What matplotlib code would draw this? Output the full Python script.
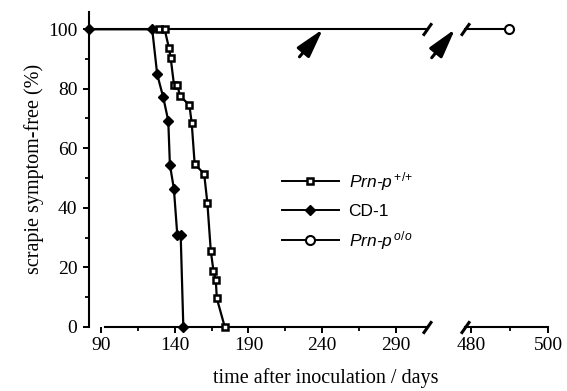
import numpy as np
from matplotlib import pyplot as plt

plt.rcParams['font.family'] = ['Liberation Serif', 'DejaVu Serif']
plt.rcParams['mathtext.fontset'] = 'custom'
plt.rcParams['mathtext.rm'] = 'Liberation Sans'
plt.rcParams['mathtext.it'] = 'Liberation Sans:italic'

# 数据 (天数, 存活百分比)
wt_days = [82, 129.3, 133.2, 136.1, 137.3, 139.6, 141.9, 143.6, 150, 151.6, 153.6, 160,
           162.2, 164.5, 166.3, 167.9, 168.6, 174]
wt_pct = [100, 100, 100, 93.8, 90.4, 81.2, 81.2, 77.6, 74.5, 68.4, 54.6, 51.5,
          41.6, 25.6, 18.9, 15.7, 9.6, 0]

cd1_days = [82, 124.8, 128.2, 132.3, 135.7, 136.8, 139.5, 141.8, 144.1, 145.9]
cd1_pct = [100, 100, 84.8, 77.1, 69.2, 54.5, 46.4, 31, 31, 0]

ko_days = [82, 310.8, np.nan, 478.3, 489.8]
ko_pct = [100, 100, np.nan, 100, 100]

x_major = [90, 140, 190, 240, 290, 480, 500]
x_minor = [115, 165, 215, 265, 490]
break_days = [310.8, 478.3]

# 箭头: (尾部天数, 尾部%, 头部天数, 头部%)
arrows = [(224.6, 90.7, 240.5, 100), (314.2, 90.4, 330, 100)]


def to_u(day):
    """断轴: 290 之前线性, 480 以后放大 2.6 倍"""
    day = np.asarray(day, dtype=float)
    return np.where(day <= 400, day - 90, 251 + (day - 480) * 2.6)


fig = plt.figure(figsize=(5.67, 3.91), dpi=100)
ax = fig.add_axes([0.157, 0.1637, 0.8095, 0.806])

ax.plot(to_u(ko_days), ko_pct, '-', color='k', lw=1.5, marker='o', ms=6.5,
        mfc='white', mec='k', mew=1.5, markevery=[4], clip_on=False,
        label=r'$Prn$-$p^{\,o/o}$', zorder=3)
ax.plot(to_u(cd1_days), cd1_pct, '-', color='k', lw=1.6, marker='D', ms=4.6,
        mfc='k', mec='k', clip_on=False, label='CD-1', zorder=5)
ax.plot(to_u(wt_days), wt_pct, '-', color='k', lw=1.6, marker='s', ms=3.8,
        mfc='white', mec='k', mew=1.8, markevery=list(range(1, len(wt_days))),
        clip_on=False, label=r'$Prn$-$p^{\,{+}/{+}}$', zorder=4)

# 坐标轴断开
bu = to_u(break_days)
ax.spines['bottom'].set_visible(False)
ax.spines['top'].set_visible(False)
ax.spines['right'].set_visible(False)
ax.spines['left'].set_linewidth(1.5)
ax.plot([to_u(92.7), bu[0]], [0, 0], color='k', lw=1.5, clip_on=False, zorder=2)
ax.plot([bu[1], to_u(500)], [0, 0], color='k', lw=1.5, clip_on=False, zorder=2)
slash = [(-0.7, -1), (0.7, 1)]
for y in [0, 100]:
    ax.plot(bu, [y, y], ls='none', marker=slash, ms=9, mew=2.2, color='k',
            clip_on=False, zorder=6)

for tx, ty, hx, hy in arrows:
    ax.annotate('', xy=(to_u(hx), hy), xytext=(to_u(tx), ty),
                arrowprops=dict(arrowstyle='-|>,head_length=0.8,head_width=0.22',
                                lw=2.2, color='k', mutation_scale=22,
                                shrinkA=0, shrinkB=0))

ax.set_xlim(to_u(82), to_u(500))
ax.set_ylim(0, 105.8)
ax.set_xticks(to_u(x_major))
ax.set_xticklabels([str(d) for d in x_major])
ax.set_xticks(to_u(x_minor), minor=True)
ax.set_yticks(range(0, 101, 20))
ax.set_yticks(range(10, 100, 20), minor=True)
ax.tick_params(which='major', direction='out', length=4.3, width=1.4, labelsize=14)
ax.tick_params(axis='x', which='major', pad=3)
ax.tick_params(axis='y', which='major', pad=4)
ax.tick_params(which='minor', direction='out', length=2.6, width=1.3)

ax.set_xlabel('time after inoculation / days', fontsize=14.5)
ax.xaxis.set_label_coords(0.515, -0.13)
ax.set_ylabel('scrapie symptom-free (%)', fontsize=14.5)
ax.yaxis.set_label_coords(-0.097, 0.5)

h, l = ax.get_legend_handles_labels()
leg = ax.legend([h[2], h[1], h[0]], [l[2], l[1], l[0]], loc='center left',
                bbox_to_anchor=(0.4198, 0.368), frameon=False, handlelength=3.3,
                labelspacing=0.6, borderpad=0, borderaxespad=0, handletextpad=0.55,
                prop={'family': 'Liberation Sans', 'size': 12.5})
for t in leg.get_texts():
    if 'Prn' in t.get_text():
        t.set_fontstyle('italic')
for lh in leg.get_lines():
    lh.set_linewidth(1.4)

fig.savefig('out.png', dpi=100)
